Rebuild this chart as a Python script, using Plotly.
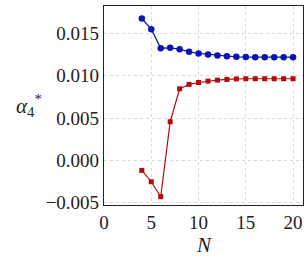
import plotly.graph_objects as go

N = list(range(4, 21))
blue = [0.01677, 0.01551, 0.01327, 0.01331, 0.01315, 0.01283, 0.01264, 0.01252,
        0.01240, 0.01232, 0.01224, 0.01221, 0.01220, 0.01220, 0.01220, 0.01220, 0.01220]
red = [-0.00118, -0.00252, -0.00429, 0.00457, 0.00846, 0.00898, 0.00921, 0.00937,
       0.00949, 0.00957, 0.00963, 0.00965, 0.00965, 0.00965, 0.00965, 0.00965, 0.00965]
xticks = [0, 5, 10, 15, 20]
yticks = [-0.005, 0.0, 0.005, 0.010, 0.015]

font = "Liberation Serif"
fig = go.Figure()
fig.add_trace(go.Scatter(x=N, y=blue, mode="lines+markers",
                         line=dict(color="#0a14b4", width=1.2),
                         marker=dict(symbol="circle", size=6.5, color="#0a14b4")))
fig.add_trace(go.Scatter(x=N, y=red, mode="lines+markers",
                         line=dict(color="#b40a0a", width=1.2),
                         marker=dict(symbol="square", size=5, color="#b40a0a")))

axis_common = dict(showline=True, linecolor="#222", linewidth=1.2, mirror=True,
                   showgrid=True, gridcolor="#d8d8d8", griddash="dot", gridwidth=1,
                   zeroline=False, ticks="", tickfont=dict(family=font, size=19, color="#222"))
fig.update_xaxes(range=[0, 21.05], tickvals=xticks, ticktext=[str(v) for v in xticks],
                 **axis_common)
fig.update_yaxes(range=[-0.00527, 0.01825], tickvals=yticks,
                 ticktext=["\u22120.005", "0.000", "0.005", "0.010", "0.015"],
                 **axis_common)
fig.add_annotation(text="<i>N</i>", xref="paper", yref="paper", x=0.5, y=-0.27,
                   showarrow=False, font=dict(family=font, size=21, color="#222"))
fig.add_annotation(text="<i>α</i><sub>4</sub><sup>*</sup>", xref="paper", yref="paper",
                   x=-0.45, y=0.5, showarrow=False,
                   font=dict(family=font, size=21, color="#222"))
fig.update_layout(width=306, height=273, margin=dict(l=104, r=3, t=6, b=68),
                  plot_bgcolor="white", paper_bgcolor="white", showlegend=False)
fig.write_html("out.html", config={"displayModeBar": False},
               post_script="document.body.style.margin='0';document.body.style.overflow='hidden';")
